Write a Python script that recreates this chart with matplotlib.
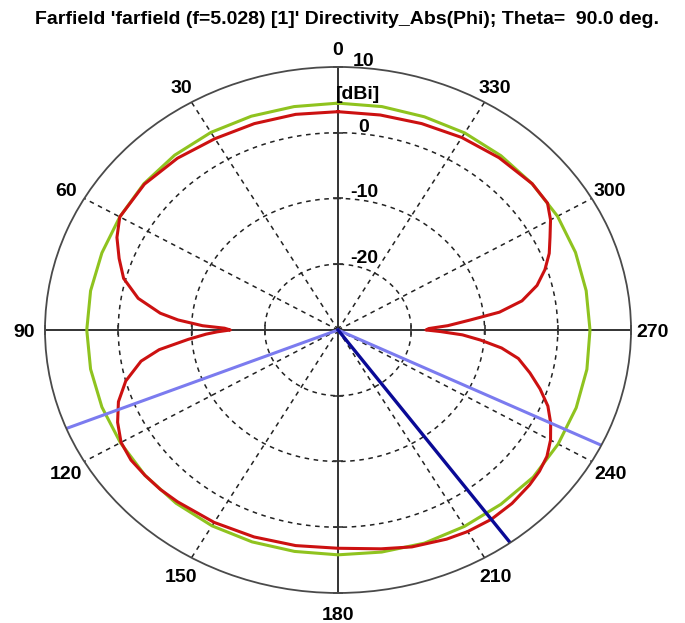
import numpy as np
import matplotlib.pyplot as plt

plt.rcParams['font.family'] = ['Liberation Sans', 'DejaVu Sans']

title = "Farfield 'farfield (f=5.028) [1]' Directivity_Abs(Phi); Theta=  90.0 deg."

# Directivity_Abs (dBi) against phi (deg)
red_phi = [0, 10, 20, 30, 40, 50, 60, 65, 70, 75, 80, 84, 86, 88, 89, 90, 91, 92, 94, 97,
           100, 105, 110, 115, 120, 125, 130, 135, 140, 150, 160, 170, 180, 190, 197, 205,
           210, 216, 222, 228, 232, 236, 240, 244, 248, 252, 256, 260, 263, 265.5, 267.5,
           269, 270, 271, 272.5, 274.8, 277, 280, 284, 288, 292, 296, 300, 304, 310, 320,
           330, 340, 350, 360]
red_dbi = [3.2, 3.3, 3.4, 3.6, 4.1, 4.5, 4.4, 3.3, 1.8, 0.3, -2.3, -5.6, -8.1, -11.5, -14.5,
           -15.3, -13.5, -12.0, -9.5, -5.4, -2.7, 0.0, 1.9, 3.2, 4.2, 4.5, 4.4, 4.3, 4.1, 3.8,
           3.5, 3.3, 3.2, 3.8, 4.5, 5.1, 5.4, 5.6, 5.5, 5.2, 4.9, 4.4, 3.5, 2.3, 0.9, -1.0,
           -3.0, -5.0, -7.5, -10.5, -13.0, -16.0, -18.0, -17.6, -15.0, -11.9, -7.8, -4.5,
           -2.0, -0.3, 1.1, 2.2, 3.5, 4.5, 4.6, 4.2, 3.8, 3.4, 3.2, 3.2]

green_phi = list(range(0, 361, 10))
green_dbi = [4.5, 4.5, 4.6, 4.7, 4.7, 4.6, 4.4, 4.3, 4.3, 4.3, 4.3, 4.3, 4.3, 4.4, 4.4, 4.4,
             4.3, 4.2, 4.2, 4.3, 4.5, 4.5, 4.6, 4.8, 4.7, 4.6, 4.5, 4.4, 4.4, 4.5, 4.6, 4.6,
             4.6, 4.6, 4.5, 4.5, 4.5]

main_lobe = 216
beam_edges = [112, 244]

ring_values = [-20, -10, 0]
angle_labels = list(range(0, 360, 30))
r_min, r_max = -30, 10

fig = plt.figure(figsize=(6.85, 6.23), dpi=100)
ax = fig.add_axes([0.0657, 0.0482, 0.8555, 0.8443], projection='polar')
ax.set_aspect('auto')
ax.set_theta_zero_location('N')
ax.set_theta_direction(1)
ax.set_ylim(r_min, r_max)
ax.grid(False)
ax.set_xticks([])
ax.set_yticks([])
ax.spines['polar'].set_color('#4a4a4a')
ax.spines['polar'].set_linewidth(1.3)

# grid: dashed rings and spokes, solid main axes
th = np.linspace(0, 2 * np.pi, 721)
for v in ring_values:
    ax.plot(th, np.full_like(th, v), color='#222222', ls=(0, (3, 3)), lw=1.1)
for a in angle_labels:
    if a % 90:
        ax.plot([np.radians(a)] * 2, [r_min, r_max], color='#222222', ls=(0, (3, 3)), lw=1.1)
    else:
        ax.plot([np.radians(a)] * 2, [r_min, r_max], color='#333333', lw=1.4)

# small ticks where the rings cross the main axes
tick_r = ring_values + [r_max]
for a, m in [(0, '_'), (180, '_'), (90, '|'), (270, '|')]:
    ax.plot([np.radians(a)] * len(tick_r), tick_r, ls='none', marker=m,
            ms=7, mew=1.2, color='#333333', clip_on=False)

ax.plot(np.radians(green_phi), green_dbi, color='#8fc31f', lw=2.2)
ax.plot(np.radians(red_phi), red_dbi, color='#cc1111', lw=2.2)

for a in beam_edges:
    ax.plot([np.radians(a)] * 2, [r_min, r_max], color='#7b7bef', lw=2.2)
ax.plot([np.radians(main_lobe)] * 2, [r_min, r_max], color='#0a0a96', lw=2.4)

for a in angle_labels:
    ax.annotate(str(a), xy=(np.radians(a), 12.9), xytext=(0, -3), textcoords='offset pixels',
                ha='center', va='center', fontsize=14, fontweight='bold',
                annotation_clip=False)

for v in ring_values + [r_max]:
    ax.annotate(str(v), xy=(0, v), xytext=(26, 1), textcoords='offset pixels',
                ha='center', va='baseline', fontsize=14, fontweight='bold')
ax.annotate('[dBi]', xy=(0, r_max), xytext=(20, -28), textcoords='offset pixels',
            ha='center', va='center', fontsize=14, fontweight='bold')

fig.text(347 / 685, 1 - 20 / 623, title, ha='center', va='center',
         fontsize=14, fontweight='bold')

fig.savefig('out.png', dpi=100)
